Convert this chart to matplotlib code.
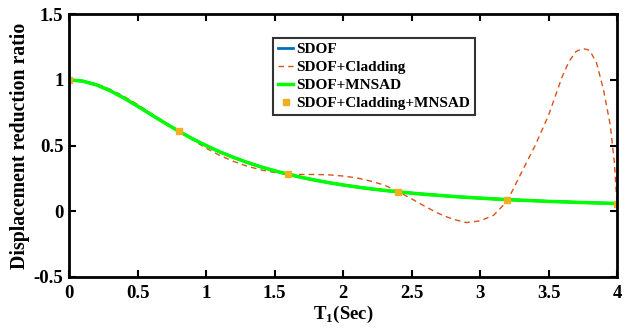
import matplotlib
matplotlib.use("Agg")
import matplotlib.pyplot as plt

# ---- data ----
t = [0.0, 0.1, 0.2, 0.3, 0.4, 0.5, 0.6, 0.7, 0.8, 0.9, 1.0, 1.1, 1.2, 1.3, 1.4,
     1.5, 1.6, 1.7, 1.8, 1.9, 2.0, 2.1, 2.2, 2.3, 2.4, 2.5, 2.6, 2.7, 2.8, 2.9,
     3.0, 3.1, 3.2, 3.3, 3.4, 3.5, 3.6, 3.7, 3.8, 3.9, 4.0]
sdof = [1.000, 0.990, 0.962, 0.917, 0.862, 0.800, 0.735, 0.671, 0.610, 0.552,
        0.500, 0.452, 0.410, 0.372, 0.338, 0.308, 0.281, 0.257, 0.236, 0.217,
        0.200, 0.185, 0.171, 0.159, 0.148, 0.138, 0.129, 0.121, 0.113, 0.106,
        0.100, 0.094, 0.089, 0.084, 0.080, 0.075, 0.072, 0.068, 0.065, 0.062,
        0.059]
sdof_mnsad = list(sdof)

t_clad = [0.0, 0.1, 0.2, 0.3, 0.4, 0.5, 0.6, 0.7, 0.8, 0.9, 1.0, 1.1, 1.2, 1.3,
          1.4, 1.5, 1.6, 1.7, 1.8, 1.9, 2.0, 2.1, 2.2, 2.3, 2.4, 2.5, 2.6, 2.7,
          2.8, 2.9, 3.0, 3.1, 3.2, 3.3, 3.4, 3.5, 3.6, 3.65, 3.7, 3.75, 3.8,
          3.85, 3.9, 3.95, 3.98, 4.0]
sdof_clad = [1.000, 0.993, 0.970, 0.928, 0.875, 0.812, 0.745, 0.678, 0.610,
             0.545, 0.480, 0.425, 0.380, 0.343, 0.315, 0.295, 0.281, 0.280,
             0.280, 0.277, 0.268, 0.254, 0.230, 0.200, 0.151, 0.095, 0.036,
             -0.018, -0.060, -0.086, -0.073, -0.030, 0.080, 0.290, 0.495,
             0.730, 1.025, 1.140, 1.215, 1.238, 1.225, 1.130, 0.930, 0.660,
             0.380, 0.060]

t_mark = [0.0, 0.8, 1.6, 2.4, 3.2, 4.0]
sdof_clad_mnsad = [1.000, 0.610, 0.281, 0.148, 0.089, 0.059]

labels = ['SDOF', 'SDOF+Cladding', 'SDOF+MNSAD', 'SDOF+Cladding+MNSAD']
xticks = [0, 0.5, 1, 1.5, 2, 2.5, 3, 3.5, 4]
xticklabels = ['0', '0.5', '1', '1.5', '2', '2.5', '3', '3.5', '4']
yticks = [-0.5, 0, 0.5, 1, 1.5]
yticklabels = ['-0.5', '0', '0.5', '1', '1.5']

# ---- style ----
plt.rcParams['font.family'] = ['Liberation Serif', 'DejaVu Serif']
plt.rcParams['font.weight'] = 'bold'
plt.rcParams['mathtext.fontset'] = 'custom'
plt.rcParams['mathtext.rm'] = 'Liberation Serif:bold'
plt.rcParams['mathtext.bf'] = 'Liberation Serif:bold'

fig = plt.figure(figsize=(6.35, 3.28), dpi=100)
ax = fig.add_axes([0.1087, 0.1555, 0.8630, 0.8015])

ax.plot(t, sdof, color='#0072BD', lw=2.0, label=labels[0])
ax.plot(t_clad, sdof_clad, color='#D95319', lw=1.0, ls=(0, (4, 3)), label=labels[1])
ax.plot(t, sdof_mnsad, color='#00FF00', lw=2.5, label=labels[2])
ax.plot(t_mark, sdof_clad_mnsad, ls='none', marker='s', ms=4.5,
        color='#EDB120', label=labels[3])

ax.set_xlim(0, 4)
ax.set_ylim(-0.5, 1.5)
ax.set_xticks(xticks)
ax.set_xticklabels(xticklabels)
ax.set_yticks(yticks)
ax.set_yticklabels(yticklabels)
ax.tick_params(direction='in', top=True, right=True, length=5, width=1.5,
               labelsize=13.5)
ax.tick_params(axis='x', pad=6)
ax.tick_params(axis='y', pad=4)
for lab in ax.get_xticklabels() + ax.get_yticklabels():
    lab.set_fontweight('bold')
for s in ax.spines.values():
    s.set_linewidth(2)

ax.set_xlabel(r'T$_{1}$(Sec)', fontsize=13.5, fontweight='bold', labelpad=1)
ax.set_ylabel('Displacement reduction ratio', fontsize=14.2, fontweight='bold',
              labelpad=3)

leg = ax.legend(loc='upper left', bbox_to_anchor=(0.373, 0.91),
                prop={'weight': 'bold', 'size': 11},
                frameon=True, fancybox=False, edgecolor='black',
                handlelength=1.0, handletextpad=0.2, borderpad=0.3,
                labelspacing=0.28, borderaxespad=0)
leg.get_frame().set_linewidth(1.5)

fig.savefig('out.png', dpi=100)
